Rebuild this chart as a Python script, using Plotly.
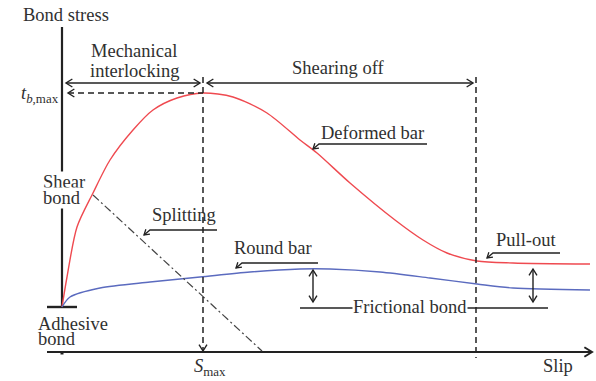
import math
import plotly.graph_objects as go

# Bond stress vs. slip, arbitrary units (origin at the axis corner)
deformed_slip = [0, 0.05, 0.15, 0.31, 0.48, 0.71, 0.91, 1.15, 1.41, 1.71, 2.05,
                 2.38, 2.55, 2.88, 3.33, 3.61, 3.85, 4.15, 4.51, 5.28]
deformed_stress = [0.44, 0.74, 1.24, 1.58, 1.91, 2.21, 2.41, 2.53, 2.58, 2.54, 2.38,
                   2.11, 1.98, 1.68, 1.31, 1.11, 0.98, 0.90, 0.88, 0.87]

round_slip = [0, 0.08, 0.38, 0.88, 1.38, 1.88, 2.38, 2.68, 3.18, 3.68, 4.15, 4.51, 5.28]
round_stress = [0.44, 0.54, 0.63, 0.69, 0.74, 0.79, 0.82, 0.82, 0.79, 0.73, 0.67, 0.63, 0.61]

s_max = 1.41          # slip at peak bond stress
tb_max = 2.58         # peak bond stress
adhesive = 0.44       # adhesive bond level
pullout_slip = 4.14   # start of pull-out stage
splitting_slip = [0.31, 2.00]
splitting_stress = [1.56, 0.0]
frictional_slip = [2.51, 4.71]

INK = "#222222"
TXT = "#303030"
RED = "#ef4a50"
BLUE = "#5b6bbf"
FONT = "Liberation Serif"
FS = 18.5

fig = go.Figure()


def line(xs, ys, color=INK, width=1.4, dash="solid"):
    fig.add_trace(go.Scatter(x=xs, y=ys, mode="lines", hoverinfo="skip",
                             line=dict(color=color, width=width, dash=dash)))


def head(tx, ty, dx, dy, size=0.075, ang=32, width=1.4):
    n = math.hypot(dx, dy)
    ux, uy = dx / n, dy / n
    pts = []
    for s in (1, -1):
        a = math.radians(s * ang)
        rx = ux * math.cos(a) - uy * math.sin(a)
        ry = ux * math.sin(a) + uy * math.cos(a)
        pts.append((tx - size * rx, ty - size * ry))
    line([pts[0][0], tx, pts[1][0]], [pts[0][1], ty, pts[1][1]], width=width)


def double_arrow(x0, y0, x1, y1, width=1.4):
    line([x0, x1], [y0, y1], width=width)
    head(x1, y1, x1 - x0, y1 - y0, width=width)
    head(x0, y0, x0 - x1, y0 - y1, width=width)


def leader(x_right, x_left, y, tip_dx=-0.06, tip_dy=-0.05):
    line([x_right, x_left, x_left + tip_dx], [y, y, y + tip_dy], width=1.3)
    head(x_left + tip_dx, y + tip_dy, tip_dx, tip_dy, size=0.06, width=1.3)


# axes
line([-0.15, 5.30], [-0.01, -0.01], width=2.2)
head(5.30, -0.01, 1, 0, size=0.09, width=2)
line([0, 0], [adhesive, 3.24], width=2.2)
line([-0.15, 0.15], [adhesive, adhesive], width=2.4)
line([0, 0], [-0.01, -0.035], width=3)

# curves
fig.add_trace(go.Scatter(x=deformed_slip, y=deformed_stress, mode="lines", hoverinfo="skip",
                         line=dict(color=RED, width=1.4, shape="spline", smoothing=0.8)))
fig.add_trace(go.Scatter(x=round_slip, y=round_stress, mode="lines", hoverinfo="skip",
                         line=dict(color=BLUE, width=1.4, shape="spline", smoothing=0.8)))

# splitting line
line(splitting_slip, splitting_stress, color="#444444", width=1.2, dash="8px,3px,2px,3px")

# guide lines at the peak
line([0.06, s_max], [tb_max, tb_max], width=1.5, dash="6px,4px")
head(0.06, tb_max, -1, 0)
line([s_max, s_max], [2.74, 0.0], width=1.5, dash="6px,4px")
head(s_max, 0.0, 0, -1)
line([pullout_slip, pullout_slip], [2.74, -0.07], width=1.5, dash="6px,4px")

# stage spans
double_arrow(0.04, 2.68, 1.38, 2.68)
double_arrow(1.45, 2.68, 4.11, 2.68)

# frictional bond markers
double_arrow(frictional_slip[0], 0.81, frictional_slip[0], 0.49)
double_arrow(frictional_slip[1], 0.82, frictional_slip[1], 0.49)
line([2.38, 4.86], [0.43, 0.43], width=1.5)

# callout leaders
leader(3.65, 2.57, 2.07)
leader(1.55, 0.88, 1.21)
leader(2.56, 1.80, 0.88)
leader(4.98, 4.31, 0.98)

texts = [
    ("Bond stress", -0.40, 3.36, "left", None),
    ("Mechanical", 0.72, 3.00, "center", None),
    ("interlocking", 0.72, 2.80, "center", None),
    ("Shearing off", 2.76, 2.83, "center", None),
    ("<i>t</i><sub><i>b</i>,max</sub>", -0.22, 2.57, "center", None),
    ("Deformed bar", 3.10, 2.18, "center", None),
    ("Shear", -0.20, 1.69, "left", "white"),
    ("bond", -0.20, 1.53, "left", "white"),
    ("Splitting", 1.22, 1.36, "center", None),
    ("Round bar", 2.11, 1.03, "center", None),
    ("Pull-out", 4.64, 1.11, "center", None),
    ("Adhesive", -0.25, 0.27, "left", None),
    ("bond", -0.25, 0.12, "left", None),
    ("Frictional bond", 3.48, 0.44, "center", "white"),
    ("<i>S</i><sub>max</sub>", 1.48, -0.16, "center", None),
    ("Slip", 4.96, -0.15, "center", None),
]
for t, x, y, al, bg in texts:
    fig.add_annotation(x=x, y=y, text=t, showarrow=False, xanchor=al, yanchor="middle",
                       align=al,
                       font=dict(family=FONT, size=FS, color=TXT),
                       bgcolor=bg if bg else "rgba(0,0,0,0)", borderpad=0)

fig.update_layout(
    width=596, height=381, margin=dict(l=0, r=0, t=0, b=0),
    paper_bgcolor="white", plot_bgcolor="white", showlegend=False,
    xaxis=dict(visible=False, range=[-0.62, 5.34], fixedrange=True),
    yaxis=dict(visible=False, range=[-0.30, 3.51], fixedrange=True),
)

fig.write_html("out.html")
